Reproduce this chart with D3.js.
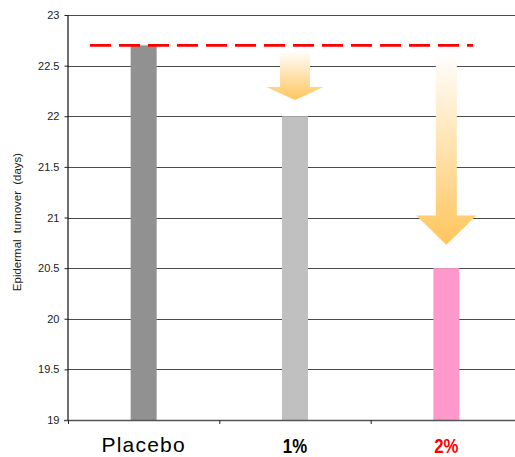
<!DOCTYPE html>
<html><head><meta charset="utf-8">
<script src="https://cdn.jsdelivr.net/npm/d3@7/dist/d3.min.js"></script>
<style>body{margin:0;background:#fff}svg{display:block}</style>
</head><body>
<svg id="c" width="515" height="457"></svg>
<script>
const categories = ["Placebo", "1%", "2%"];
const values = [22.7, 22.0, 20.5];
const barColors = ["#919191", "#c0c0c0", "#ff99cc"];
const labelColors = ["#000", "#000", "#ff0000"];
const yTicks = [19, 19.5, 20, 20.5, 21, 21.5, 22, 22.5, 23];
const yLabel = "Epidermal turnover (days)";
const baselineValue = 22.7;
// arrows: start value, tip value
const arrowCats = ["1%", "2%"];
const arrowFrom = [22.65, 22.63];
const arrowTo = [22.16, 20.73];
const arrowHeadTop = [22.29, 21.02];
const arrowShaftW = [30, 21];
const arrowHeadW = [57, 60];

(function () {
const svg = d3.select("#c");
const mLeft = 68, mRight = 522, mTop = 15, mBottom = 420;
const x = d3.scaleBand().domain(categories).range([mLeft, mRight]).paddingInner(0).paddingOuter(0);
const y = d3.scaleLinear().domain([19, 23]).range([mBottom, mTop]);

// gridlines
svg.append("g").selectAll("line").data(yTicks.filter(t => t > 19)).join("line")
  .attr("x1", mLeft).attr("x2", 515)
  .attr("y1", d => Math.round(y(d)) + 0.5).attr("y2", d => Math.round(y(d)) + 0.5)
  .attr("stroke", "#4a4a4a").attr("stroke-width", 1);

// y axis
const ya = svg.append("g").attr("transform", `translate(${mLeft + 0.5},0)`)
  .call(d3.axisLeft(y).tickValues(yTicks).tickSize(4).tickFormat(d => String(d)));
ya.select(".domain").attr("stroke", "#222").attr("d", `M-0.5,${y(19)}V${y(23)}`).attr("stroke-width", 1.3);
ya.selectAll(".tick line").attr("stroke", "#222");
ya.selectAll(".tick text").attr("font-family", "Liberation Sans, Arial, sans-serif").attr("font-size", 11).attr("fill", "#222").attr("x", -9);

// bars
svg.append("g").selectAll("rect").data(categories).join("rect")
  .attr("x", d => x(d) + x.bandwidth() / 2 - 13)
  .attr("width", 26)
  .attr("y", (d, i) => y(values[i]))
  .attr("height", (d, i) => y(19) - y(values[i]))
  .attr("fill", (d, i) => barColors[i]);

// x axis
svg.append("line").attr("x1", 64).attr("x2", 515).attr("y1", mBottom + 0.5).attr("y2", mBottom + 0.5)
  .attr("stroke", "#555").attr("stroke-width", 1.5);
svg.append("g").selectAll("line").data(categories).join("line")
  .attr("x1", d => x(d) + 0.5).attr("x2", d => x(d) + 0.5)
  .attr("y1", mBottom).attr("y2", mBottom + 4).attr("stroke", "#222");

// x labels
svg.append("g").selectAll("text").data(categories).join("text")
  .attr("transform", (d, i) => `translate(${x(d) + x.bandwidth() / 2},${i === 0 ? 452 : 453}) scale(${i === 0 ? 1 : 0.8},1)`)
  .attr("text-anchor", "middle")
  .attr("font-family", "Liberation Sans, Arial, sans-serif")
  .attr("font-weight", (d, i) => i === 0 ? "normal" : "bold")
  .attr("letter-spacing", (d, i) => i === 0 ? 1.2 : 0)
  .attr("font-size", (d, i) => i === 0 ? 21 : 21)
  .attr("fill", (d, i) => labelColors[i])
  .text(d => d);

// y label
svg.append("text").attr("transform", `translate(21,${222}) rotate(-90)`)
  .attr("text-anchor", "middle").attr("font-family", "Liberation Sans, Arial, sans-serif")
  .attr("font-size", 11.5).attr("word-spacing", 3).attr("fill", "#222").text(yLabel);

// gradient
const defs = svg.append("defs");
const g = defs.append("linearGradient").attr("id", "ag").attr("x1", 0).attr("y1", 0).attr("x2", 0).attr("y2", 1);
g.append("stop").attr("offset", "0%").attr("stop-color", "#ffffff");
g.append("stop").attr("offset", "100%").attr("stop-color", "#ffc55c");

// arrows
svg.append("g").selectAll("path").data(arrowCats).join("path")
  .attr("d", (d, i) => {
    const cx = x(d) + x.bandwidth() / 2;
    const t = y(arrowFrom[i]), h = y(arrowHeadTop[i]), tip = y(arrowTo[i]);
    const sw = arrowShaftW[i] / 2, hw = arrowHeadW[i] / 2;
    return `M${cx - sw},${t}H${cx + sw}V${h}H${cx + hw}L${cx},${tip}L${cx - hw},${h}H${cx - sw}Z`;
  })
  .attr("fill", "url(#ag)");

// dashed baseline
svg.append("line")
  .attr("x1", 90).attr("x2", 473)
  .attr("y1", y(baselineValue)).attr("y2", y(baselineValue))
  .attr("stroke", "#ff0000").attr("stroke-width", 2.6)
  .attr("stroke-dasharray", "21,8");
})();
</script>
</body></html>
